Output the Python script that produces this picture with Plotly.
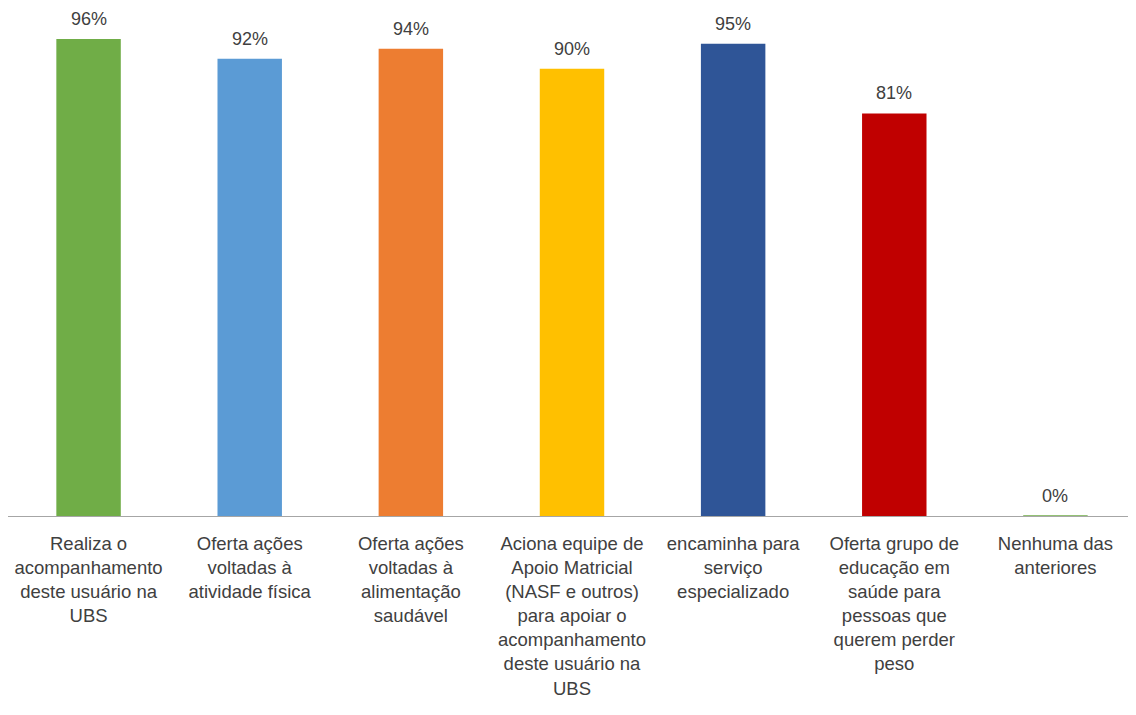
import plotly.graph_objects as go

categories = [
    "Realiza o<br>acompanhamento<br>deste usuário na<br>UBS",
    "Oferta ações<br>voltadas à<br>atividade física",
    "Oferta ações<br>voltadas à<br>alimentação<br>saudável",
    "Aciona equipe de<br>Apoio Matricial<br>(NASF e outros)<br>para apoiar o<br>acompanhamento<br>deste usuário na<br>UBS",
    "encaminha para<br>serviço<br>especializado",
    "Oferta grupo de<br>educação em<br>saúde para<br>pessoas que<br>querem perder<br>peso",
    "Nenhuma das<br>anteriores",
]
values = [96, 92, 94, 90, 95, 81, 0]
colors = ["#70AD47", "#5B9BD5", "#ED7D31", "#FFC000", "#2F5597", "#C00000", "#70AD47"]
line_widths = [0, 0, 0, 0, 0, 0, 1.5]

FONT = "Liberation Sans"
TXT = "#404040"

fig = go.Figure()
fig.add_trace(go.Bar(
    x=categories, y=values,
    marker=dict(color=colors, line=dict(color=colors, width=line_widths)),
    showlegend=False, hoverinfo="skip",
))

for c, v in zip(categories, values):
    fig.add_annotation(x=c, y=v, text=f"{v}%", showarrow=False,
                       yanchor="middle", yshift=20,
                       font=dict(family=FONT, size=18, color=TXT))

fig.update_layout(
    width=1128, height=707,
    margin=dict(l=0, r=0, t=11, b=199, autoexpand=False),
    paper_bgcolor="white", plot_bgcolor="white",
    bargap=0.6,
    font=dict(family=FONT, size=18, color=TXT),
)
fig.update_xaxes(showline=True, linecolor="#A6A6A6", linewidth=1,
                 showgrid=False, ticks="", tickangle=0, automargin=False,
                 ticklabelstandoff=11,
                 tickfont=dict(family=FONT, size=18.5, color=TXT))
fig.update_yaxes(range=[0, 100], visible=False, showgrid=False)

fig.write_html("out.html")
